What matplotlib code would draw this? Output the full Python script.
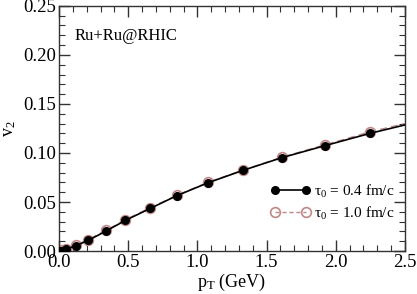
import matplotlib
matplotlib.use("Agg")
import matplotlib.pyplot as plt
from matplotlib.ticker import MultipleLocator, FormatStrFormatter
from matplotlib.lines import Line2D

plt.rcParams['font.family'] = ['Liberation Serif', 'DejaVu Serif']
plt.rcParams['mathtext.fontset'] = 'custom'
plt.rcParams['mathtext.rm'] = 'Liberation Serif'
plt.rcParams['mathtext.it'] = 'Liberation Serif'

# tau0 = 0.4 fm/c (filled)
pt_a = [0.0, 0.02, 0.05, 0.12, 0.21, 0.34, 0.48, 0.66, 0.85, 1.08, 1.33, 1.61, 1.92, 2.25]
v2_a = [0.0, 0.0005, 0.0018, 0.0054, 0.0108, 0.0204, 0.0313, 0.0435, 0.0564, 0.0698, 0.0823, 0.0952, 0.1074, 0.1201]
# curve end value at pT = 2.5
v2_a_end = 0.1286

# tau0 = 1.0 fm/c (open)
pt_b = [0.0, 0.02, 0.05, 0.12, 0.21, 0.34, 0.48, 0.66, 0.85, 1.08, 1.33, 1.61, 1.92, 2.25]
v2_b = [0.0, 0.0006, 0.0022, 0.0060, 0.0117, 0.0212, 0.0320, 0.0442, 0.0568, 0.0703, 0.0826, 0.0957, 0.1082, 0.1217]
v2_b_end = 0.1300

fig = plt.figure(figsize=(4.17, 2.94), dpi=100)
ax = fig.add_axes([0.1415, 0.146, 0.8295, 0.834])

col_b = '#c08888'
ax.plot(pt_b + [2.5], v2_b + [v2_b_end], color=col_b, lw=1.0, ls=(0, (5, 3)),
        marker='o', markevery=list(range(len(pt_b))), ms=7, mfc='none', mec=col_b, mew=1.2, zorder=2)
ax.plot(pt_a + [2.5], v2_a + [v2_a_end], color='black', lw=1.2,
        marker='o', markevery=list(range(len(pt_a))), ms=5.5, mfc='black', mec='black', zorder=3)

ax.set_xlim(0, 2.5)
ax.set_ylim(0, 0.25)
ax.xaxis.set_major_locator(MultipleLocator(0.5))
ax.xaxis.set_minor_locator(MultipleLocator(0.1))
ax.yaxis.set_major_locator(MultipleLocator(0.05))
ax.yaxis.set_minor_locator(MultipleLocator(0.01))
ax.xaxis.set_major_formatter(FormatStrFormatter('%.1f'))
ax.yaxis.set_major_formatter(FormatStrFormatter('%.2f'))
ax.tick_params(which='both', direction='in', top=True, right=True, labelsize=13.5, colors='#333333', labelcolor='black')
ax.tick_params(which='major', length=8, width=1, pad=2)
ax.tick_params(which='minor', length=4, width=0.8)
for s in ax.spines.values():
    s.set_color('#333333')
    s.set_linewidth(1)

ax.set_xlabel(r'p$_\mathregular{T}$ (GeV)', fontsize=13, labelpad=1)
ax.set_ylabel(r'v$_\mathregular{2}$', fontsize=13, labelpad=4)

ax.text(0.045, 0.86, 'Ru+Ru@RHIC', transform=ax.transAxes, fontsize=12)

h_a = Line2D([], [], color='black', lw=1.2, marker='o', ms=5.5, mfc='black', mec='black')
h_b = Line2D([], [], color=col_b, lw=1.0, ls=(0, (3, 2)), marker='o', ms=7, mfc='none', mec=col_b, mew=1.2)
leg = ax.legend([h_a, h_b], ['τ$_0$ = 0.4 fm/c', 'τ$_0$ = 1.0 fm/c'],
                loc='lower right', bbox_to_anchor=(1.0, 0.077), frameon=False, fontsize=11,
                numpoints=2, handlelength=2.6, handletextpad=0.2,
                labelspacing=0.3, borderaxespad=0.3)

fig.savefig('out.png', dpi=100)
